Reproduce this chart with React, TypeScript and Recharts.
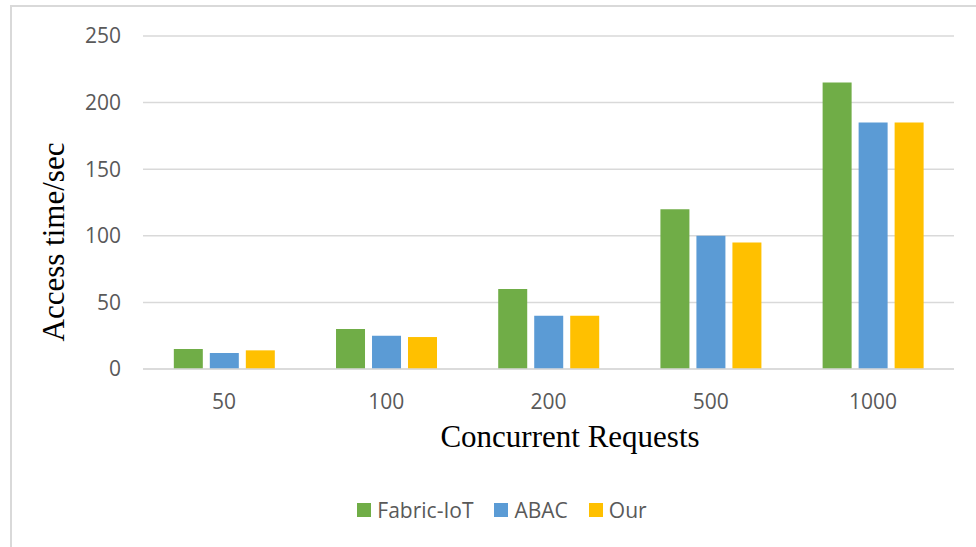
import React from 'react';
import { BarChart, Bar, XAxis, YAxis, CartesianGrid, Legend, Label } from 'recharts';

const categories = ['50', '100', '200', '500', '1000'];
const fabricIoT = [15, 30, 60, 120, 215];
const abac = [12, 25, 40, 100, 185];
const our = [14, 24, 40, 95, 185];
const yTicks = [0, 50, 100, 150, 200, 250];

const series = [
  { key: 'fabric', name: 'Fabric-IoT', values: fabricIoT, color: '#70AD47' },
  { key: 'abac', name: 'ABAC', values: abac, color: '#5B9BD5' },
  { key: 'our', name: 'Our', values: our, color: '#FFC000' },
];

const chartData = categories.map((cat, i) => {
  const row: Record<string, string | number> = { cat };
  series.forEach(s => {
    row[s.key] = s.values[i];
  });
  return row;
});

const tickFont = { fontFamily: '"Open Sans", sans-serif', fontSize: 21, fill: '#595959' };
const serif = '"Liberation Serif", "Times New Roman", serif';

// legend drawn as plain html so spacing can follow the original
const LegendContent = () => (
  <div
    style={{
      display: 'flex',
      justifyContent: 'center',
      alignItems: 'center',
      gap: 21,
      fontFamily: '"Open Sans", sans-serif',
      fontSize: 21,
      color: '#595959',
      lineHeight: '28px',
    }}
  >
    {series.map(s => (
      <div key={s.key} style={{ display: 'flex', alignItems: 'center' }}>
        <span style={{ display: 'inline-block', width: 14, height: 14, background: s.color, marginRight: 6 }} />
        <span>{s.name}</span>
      </div>
    ))}
  </div>
);

export default function App() {
  return (
    <div style={{ position: 'relative', width: 976, height: 547, overflow: 'hidden', background: '#fff' }}>
      <style>{'body { margin: 0; }'}</style>
      <div
        style={{
          position: 'absolute',
          left: 10,
          top: 5,
          width: 1000,
          height: 600,
          borderTop: '2px solid #d9d9d9',
          borderLeft: '2px solid #d9d9d9',
        }}
      />
      <div style={{ position: 'absolute', left: 0, top: 0 }}>
        <BarChart
          width={976}
          height={547}
          data={chartData}
          margin={{ top: 36, right: 22, left: 0, bottom: 148 }}
          barCategoryGap="19%"
          barGap={7}
        >
          <CartesianGrid vertical={false} stroke="#d9d9d9" strokeWidth={1.5} />
          <XAxis
            dataKey="cat"
            axisLine={{ stroke: '#d9d9d9', strokeWidth: 1.5 }}
            tickLine={false}
            tick={tickFont}
            tickMargin={19}
            height={30}
          >
            <Label
              content={() => (
                <text x={570} y={447} textAnchor="middle" fontFamily={serif} fontSize={31} fill="#000">
                  Concurrent Requests
                </text>
              )}
            />
          </XAxis>
          <YAxis
            width={143}
            domain={[0, 250]}
            ticks={yTicks}
            axisLine={false}
            tickLine={false}
            tick={tickFont}
            tickMargin={16}
          >
            <Label
              content={() => (
                <text
                  x={64}
                  y={242}
                  textAnchor="middle"
                  transform="rotate(-90, 64, 242)"
                  fontFamily={serif}
                  fontSize={31}
                  fill="#000"
                >
                  Access time/sec
                </text>
              )}
            />
          </YAxis>
          <Legend
            content={<LegendContent />}
            verticalAlign="middle"
            align="center"
            wrapperStyle={{ top: 496, left: 14, width: 976 }}
          />
          {series.map(s => (
            <Bar key={s.key} dataKey={s.key} name={s.name} fill={s.color} isAnimationActive={false} />
          ))}
        </BarChart>
      </div>
    </div>
  );
}
